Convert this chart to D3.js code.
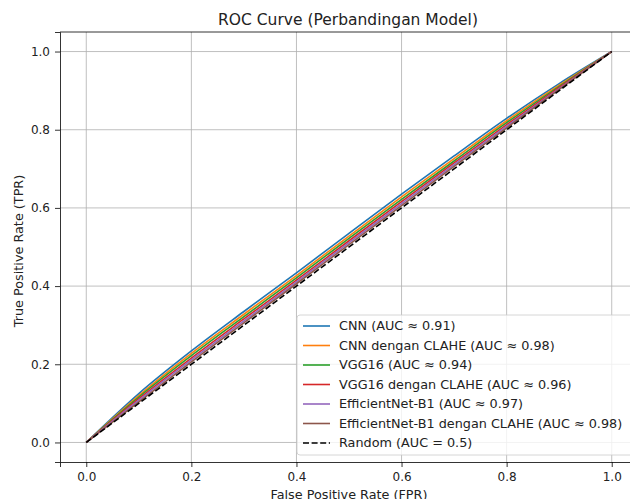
<!DOCTYPE html>
<html>
<head>
<meta charset="utf-8">
<script src="https://cdn.jsdelivr.net/npm/d3@7"></script>
<style>
  body { margin: 0; background: #fff; }
  svg { font-family: "DejaVu Sans", sans-serif; }
</style>
</head>
<body>
<div id="chart"></div>
<script>
// data
const fpr = [0, 0.1, 0.2, 0.3, 0.4, 0.5, 0.6, 0.7, 0.8, 0.9, 1.0];
const tprCNN = [0, 0.125, 0.234, 0.335, 0.434, 0.535, 0.635, 0.733, 0.829, 0.918, 1.0];
const tprCNNClahe = [0, 0.120, 0.228, 0.328, 0.427, 0.528, 0.628, 0.726, 0.823, 0.914, 1.0];
const tprVGG = [0, 0.116, 0.222, 0.322, 0.421, 0.522, 0.622, 0.720, 0.818, 0.911, 1.0];
const tprVGGClahe = [0, 0.112, 0.216, 0.316, 0.415, 0.516, 0.616, 0.715, 0.813, 0.908, 1.0];
const tprEff = [0, 0.108, 0.211, 0.311, 0.411, 0.511, 0.611, 0.711, 0.809, 0.905, 1.0];
const tprEffClahe = [0, 0.104, 0.206, 0.306, 0.406, 0.506, 0.606, 0.706, 0.805, 0.903, 1.0];
const randomX = [0, 1];
const randomY = [0, 1];

const modelNames = ["CNN (AUC ≈ 0.91)", "CNN dengan CLAHE (AUC ≈ 0.98)", "VGG16 (AUC ≈ 0.94)",
  "VGG16 dengan CLAHE (AUC ≈ 0.96)", "EfficientNet-B1 (AUC ≈ 0.97)", "EfficientNet-B1 dengan CLAHE (AUC ≈ 0.98)"];
const randomName = "Random (AUC = 0.5)";
const xTicks = [0.0, 0.2, 0.4, 0.6, 0.8, 1.0];
const yTicks = [0.0, 0.2, 0.4, 0.6, 0.8, 1.0];

const colors = ["#1f77b4", "#ff7f0e", "#2ca02c", "#d62728", "#9467bd", "#8c564b"];
const series = [tprCNN, tprCNNClahe, tprVGG, tprVGGClahe, tprEff, tprEffClahe];

const W = 630, H = 499;
const margin = {left: 60, top: 32, right: -8, bottom: 37};

const svg = d3.select("#chart").append("svg").attr("width", W).attr("height", H);

const x = d3.scaleLinear().domain([-0.05, 1.05]).range([margin.left, W - margin.right]);
const y = d3.scaleLinear().domain([-0.05, 1.05]).range([H - margin.bottom, margin.top]);

// grid
svg.append("g").selectAll("line").data(xTicks).join("line")
  .attr("x1", d => x(d)).attr("x2", d => x(d))
  .attr("y1", y(-0.05)).attr("y2", y(1.05))
  .attr("stroke", "#b0b0b0").attr("stroke-width", 0.8);
svg.append("g").selectAll("line").data(yTicks).join("line")
  .attr("x1", x(-0.05)).attr("x2", x(1.05))
  .attr("y1", d => y(d)).attr("y2", d => y(d))
  .attr("stroke", "#b0b0b0").attr("stroke-width", 0.8);

const line = d3.line().x(d => x(d[0])).y(d => y(d[1])).curve(d3.curveMonotoneX);

series.forEach(function(s, i) {
  svg.append("path")
    .datum(fpr.map((f, j) => [f, s[j]]))
    .attr("fill", "none")
    .attr("stroke", colors[i])
    .attr("stroke-width", 1.6)
    .attr("stroke-linejoin", "round")
    .attr("d", line);
});

svg.append("path")
  .datum(randomX.map((f, j) => [f, randomY[j]]))
  .attr("fill", "none")
  .attr("stroke", "#000")
  .attr("stroke-width", 1.6)
  .attr("stroke-dasharray", "6,2.6")
  .attr("d", line);

// axes
const xAxis = svg.append("g")
  .attr("transform", `translate(0,${y(-0.05)})`)
  .call(d3.axisBottom(x).tickValues(xTicks).tickFormat(d3.format(".1f")).tickSize(5).tickPadding(5));
const yAxis = svg.append("g")
  .attr("transform", `translate(${x(-0.05)},0)`)
  .call(d3.axisLeft(y).tickValues(yTicks).tickFormat(d3.format(".1f")).tickSize(5).tickPadding(5));
[xAxis, yAxis].forEach(function(a) {
  a.select(".domain").attr("stroke-width", 0.8);
  a.selectAll(".tick line").attr("stroke-width", 0.8);
  a.selectAll("text").attr("font-size", 12).attr("fill", "#222").attr("font-family", "DejaVu Sans");
});
// top spine
svg.append("line")
  .attr("x1", x(-0.05)).attr("x2", x(1.05))
  .attr("y1", y(1.05)).attr("y2", y(1.05))
  .attr("stroke", "#000").attr("stroke-width", 0.8);

// titles
svg.append("text").attr("x", 348).attr("y", 25).attr("text-anchor", "middle")
  .attr("font-size", 15.5).attr("fill", "#222").text("ROC Curve (Perbandingan Model)");
svg.append("text").attr("x", 349).attr("y", 499).attr("text-anchor", "middle")
  .attr("font-size", 12.8).attr("fill", "#222").text("False Positive Rate (FPR)");
svg.append("text").attr("transform", `translate(23,${(y(-0.05) + y(1.05)) / 2 + 4}) rotate(-90)`)
  .attr("text-anchor", "middle")
  .attr("font-size", 12.8).attr("fill", "#222").text("True Positive Rate (TPR)");

// legend
const legend = svg.append("g").attr("transform", "translate(297,315)");
legend.append("rect")
  .attr("width", 336).attr("height", 140).attr("rx", 3)
  .attr("fill", "#fff").attr("fill-opacity", 0.8)
  .attr("stroke", "#cccccc").attr("stroke-width", 0.8);
const entries = modelNames.map((n, i) => ({name: n, color: colors[i], dash: null}))
  .concat([{name: randomName, color: "#000", dash: "6,2.6"}]);
const rows = legend.selectAll("g.row").data(entries).join("g")
  .attr("transform", (d, i) => `translate(0,${11 + i * 19.5})`);
rows.append("line")
  .attr("x1", 6).attr("x2", 33)
  .attr("stroke", d => d.color).attr("stroke-width", 1.6)
  .attr("stroke-dasharray", d => d.dash);
rows.append("text")
  .attr("x", 42).attr("dy", "0.35em")
  .attr("font-size", 12.8).attr("fill", "#222").text(d => d.name);
</script>
</body>
</html>
